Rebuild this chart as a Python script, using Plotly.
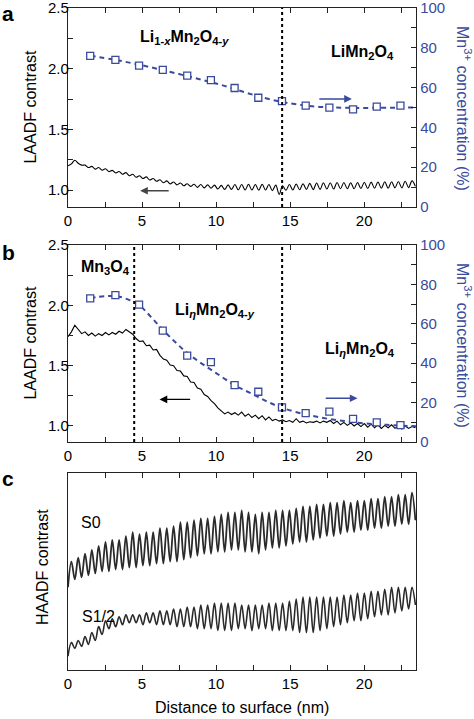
import plotly.graph_objects as go

# ---------------- data ----------------
x_profile = [0.00, 0.23, 0.46, 0.69, 0.92, 1.15, 1.38, 1.61, 1.84, 2.07, 2.30, 2.53, 2.76, 2.99, 3.22,
             3.45, 3.68, 3.91, 4.14, 4.37, 4.60, 4.83, 5.06, 5.29, 5.52, 5.75, 5.98, 6.21, 6.44, 6.67,
             6.90, 7.13, 7.36, 7.59, 7.82, 8.05, 8.28, 8.51, 8.74, 8.97, 9.20, 9.43, 9.66, 9.89, 10.12,
             10.35, 10.58, 10.81, 11.04, 11.27, 11.50, 11.73, 11.96, 12.19, 12.42, 12.65, 12.88, 13.11,
             13.34, 13.57, 13.80, 14.03, 14.26, 14.49, 14.72, 14.95, 15.18, 15.41, 15.64, 15.87, 16.10,
             16.33, 16.56, 16.79, 17.02, 17.25, 17.48, 17.71, 17.94, 18.17, 18.40, 18.63, 18.86, 19.09,
             19.32, 19.55, 19.78, 20.01, 20.24, 20.47, 20.70, 20.93, 21.16, 21.39, 21.62, 21.85, 22.08,
             22.31, 22.54, 22.77, 23.00, 23.23, 23.46]

laadf_a = [1.200, 1.215, 1.245, 1.220, 1.205, 1.205, 1.185, 1.195, 1.172, 1.185, 1.163, 1.175, 1.152,
           1.162, 1.140, 1.152, 1.130, 1.143, 1.118, 1.130, 1.105, 1.118, 1.095, 1.108, 1.082, 1.095,
           1.072, 1.085, 1.060, 1.075, 1.050, 1.066, 1.042, 1.058, 1.035, 1.052, 1.030, 1.048, 1.022,
           1.045, 1.018, 1.042, 1.015, 1.040, 1.008, 1.038, 1.005, 1.042, 1.005, 1.045, 1.002, 1.046,
           1.000, 1.048, 1.000, 1.045, 0.998, 1.048, 1.000, 1.045, 0.995, 1.040, 0.965, 1.035, 0.998,
           1.045, 1.000, 1.050, 1.002, 1.052, 1.005, 1.055, 1.003, 1.058, 1.005, 1.060, 1.008, 1.060,
           1.008, 1.062, 1.010, 1.062, 1.010, 1.060, 1.010, 1.062, 1.012, 1.064, 1.012, 1.065, 1.015,
           1.066, 1.015, 1.068, 1.015, 1.068, 1.018, 1.070, 1.018, 1.072, 1.020, 1.075, 1.030]

laadf_b = [1.740, 1.780, 1.835, 1.800, 1.765, 1.780, 1.750, 1.770, 1.745, 1.765, 1.750, 1.775, 1.755,
           1.775, 1.760, 1.785, 1.770, 1.800, 1.780, 1.760, 1.725, 1.700, 1.705, 1.665, 1.670, 1.630,
           1.635, 1.585, 1.555, 1.545, 1.505, 1.500, 1.460, 1.455, 1.415, 1.410, 1.365, 1.360, 1.315,
           1.305, 1.260, 1.245, 1.210, 1.185, 1.150, 1.125, 1.100, 1.115, 1.095, 1.110, 1.090, 1.115,
           1.080, 1.100, 1.070, 1.090, 1.060, 1.085, 1.050, 1.075, 1.045, 1.055, 1.040, 1.050, 1.035,
           1.045, 1.030, 1.060, 1.030, 1.040, 1.025, 1.035, 1.030, 1.040, 1.025, 1.040, 1.030, 1.045,
           1.020, 1.040, 1.010, 1.030, 1.005, 1.025, 1.000, 1.020, 0.995, 1.020, 0.990, 1.015, 0.985,
           1.010, 0.980, 1.005, 0.985, 1.010, 0.980, 1.000, 0.975, 1.000, 0.980, 0.995, 0.985]

haadf_s0 = [0.42, 0.55, 0.46, 0.57, 0.47, 0.59, 0.48, 0.61, 0.49, 0.63, 0.50, 0.65, 0.50, 0.66, 0.51,
            0.66, 0.51, 0.68, 0.52, 0.70, 0.52, 0.69, 0.53, 0.70, 0.53, 0.70, 0.54, 0.72, 0.54, 0.72,
            0.55, 0.73, 0.55, 0.75, 0.56, 0.75, 0.57, 0.76, 0.58, 0.77, 0.59, 0.77, 0.59, 0.78, 0.60,
            0.79, 0.60, 0.80, 0.61, 0.80, 0.61, 0.81, 0.60, 0.80, 0.60, 0.79, 0.59, 0.80, 0.61, 0.80,
            0.62, 0.81, 0.62, 0.81, 0.63, 0.81, 0.64, 0.82, 0.65, 0.83, 0.65, 0.83, 0.66, 0.84, 0.67,
            0.84, 0.68, 0.85, 0.68, 0.85, 0.69, 0.86, 0.70, 0.85, 0.70, 0.86, 0.71, 0.86, 0.71, 0.87,
            0.72, 0.87, 0.72, 0.88, 0.73, 0.88, 0.73, 0.89, 0.74, 0.89, 0.74, 0.90, 0.76]

haadf_s12 = [0.07, 0.14, 0.11, 0.15, 0.12, 0.17, 0.13, 0.19, 0.15, 0.22, 0.18, 0.25, 0.21, 0.26, 0.22,
             0.27, 0.23, 0.28, 0.24, 0.28, 0.24, 0.28, 0.23, 0.29, 0.24, 0.29, 0.23, 0.30, 0.23, 0.30,
             0.23, 0.31, 0.22, 0.31, 0.22, 0.32, 0.22, 0.32, 0.21, 0.33, 0.21, 0.33, 0.21, 0.34, 0.20,
             0.34, 0.20, 0.34, 0.20, 0.34, 0.21, 0.33, 0.21, 0.33, 0.20, 0.33, 0.21, 0.33, 0.21, 0.34,
             0.20, 0.34, 0.20, 0.34, 0.20, 0.35, 0.20, 0.36, 0.19, 0.37, 0.19, 0.37, 0.19, 0.37, 0.20,
             0.37, 0.21, 0.37, 0.22, 0.37, 0.23, 0.38, 0.24, 0.38, 0.25, 0.39, 0.25, 0.39, 0.26, 0.40,
             0.27, 0.40, 0.28, 0.41, 0.28, 0.42, 0.29, 0.42, 0.30, 0.42, 0.31, 0.42, 0.33]

sq_x = [1.5, 3.2, 4.8, 6.4, 8.05, 9.65, 11.25, 12.85, 14.45, 16.05, 17.65, 19.25, 20.85, 22.45]
mn3_a = [75.9, 73.9, 71.0, 68.9, 66.0, 63.8, 59.8, 54.9, 53.2, 50.9, 49.9, 49.1, 50.4, 50.9]
mn3_b = [72.9, 74.6, 69.7, 56.5, 43.8, 40.5, 28.9, 25.5, 17.6, 14.7, 15.4, 11.7, 10.0, 8.6]

fit_a_x = [1.5, 3.0, 4.5, 6.0, 7.5, 9.0, 10.5, 12.0, 13.0, 14.3, 15.5, 17.0, 18.5, 20.0, 21.5, 23.5]
fit_a_y = [76.0, 74.2, 72.0, 69.5, 66.8, 64.0, 61.0, 57.5, 55.3, 53.0, 51.5, 50.3, 49.9, 49.8, 49.9, 50.0]
fit_b_x = [1.5, 2.5, 3.3, 4.0, 4.8, 5.6, 6.4, 7.2, 8.0, 8.8, 9.6, 10.4, 11.2, 12.0, 12.8, 13.6,
           14.4, 15.5, 17.0, 18.5, 20.0, 21.5, 23.5]
fit_b_y = [73.0, 74.0, 74.0, 72.5, 69.5, 63.5, 57.0, 51.0, 45.5, 41.0, 37.0, 33.0, 29.0, 26.0, 23.0,
           20.0, 17.5, 15.0, 12.5, 10.8, 9.5, 8.7, 8.0]

bounds_a = [14.46]
bounds_b = [4.47, 14.46]

x_ticks = [0, 5, 10, 15, 20]
left_ticks = [1.0, 1.5, 2.0, 2.5]
left_ticktext = ["1.0", "1.5", "2.0", "2.5"]
right_ticks = [0, 20, 40, 60, 80, 100]

# ---------------- style ----------------
FONT = "Liberation Sans, Arial, Helvetica, sans-serif"
BLUE = "#3a4a9c"
AX = "#222222"
DASH = "5px,4px"

fig = go.Figure()

# Panel a
fig.add_trace(go.Scatter(x=x_profile, y=laadf_a, mode="lines", line=dict(color="black", width=1.1, shape="spline"),
                         xaxis="x", yaxis="y", showlegend=False))
fig.add_trace(go.Scatter(x=fit_a_x, y=fit_a_y, mode="lines", line=dict(color=BLUE, width=2, dash=DASH, shape="spline"),
                         xaxis="x", yaxis="y2", showlegend=False))
fig.add_trace(go.Scatter(x=sq_x, y=mn3_a, mode="markers",
                         marker=dict(symbol="square", size=7, color="white", line=dict(color=BLUE, width=1.3)),
                         xaxis="x", yaxis="y2", showlegend=False))
# Panel b
fig.add_trace(go.Scatter(x=x_profile, y=laadf_b, mode="lines", line=dict(color="black", width=1.1),
                         xaxis="x2", yaxis="y3", showlegend=False))
fig.add_trace(go.Scatter(x=fit_b_x, y=fit_b_y, mode="lines", line=dict(color=BLUE, width=2, dash=DASH, shape="spline"),
                         xaxis="x2", yaxis="y4", showlegend=False))
fig.add_trace(go.Scatter(x=sq_x, y=mn3_b, mode="markers",
                         marker=dict(symbol="square", size=7, color="white", line=dict(color=BLUE, width=1.3)),
                         xaxis="x2", yaxis="y4", showlegend=False))
# Panel c
fig.add_trace(go.Scatter(x=x_profile, y=haadf_s0, mode="lines", line=dict(color="#2a2a2a", width=1.8, shape="spline"),
                         xaxis="x3", yaxis="y5", showlegend=False))
fig.add_trace(go.Scatter(x=x_profile, y=haadf_s12, mode="lines", line=dict(color="#2a2a2a", width=1.6, shape="spline"),
                         xaxis="x3", yaxis="y5", showlegend=False))

common_x = dict(range=[0, 23.5], tickvals=x_ticks, ticks="inside", ticklen=5,
                tickcolor=AX, showline=True, linecolor=AX, linewidth=1.3, mirror="ticks",
                minor=dict(dtick=2.5, tick0=0, ticks="inside", ticklen=5, tickcolor=AX),
                showgrid=False, zeroline=False, tickfont=dict(size=15, color="black", family=FONT),
                automargin=False, ticklabeloverflow="allow")
common_left = dict(tickvals=left_ticks, ticktext=left_ticktext, ticks="inside", ticklen=5, tickcolor=AX,
                   minor=dict(dtick=0.25, tick0=0, ticks="inside", ticklen=5, tickcolor=AX),
                   showline=True, linecolor=AX, linewidth=1.3, showgrid=False, zeroline=False,
                   tickfont=dict(size=15, color="black", family=FONT), automargin=False,
                   ticklabeloverflow="allow", ticklabelstandoff=-5)
common_right = dict(range=[0, 100], tickvals=right_ticks, ticks="inside", ticklen=5,
                    minor=dict(dtick=10, tick0=0, ticks="inside", ticklen=5, tickcolor=AX),
                    tickcolor=AX, showline=True, linecolor=AX, linewidth=1.3, showgrid=False, zeroline=False,
                    side="right", tickfont=dict(size=15, color=BLUE, family=FONT), automargin=False,
                    ticklabeloverflow="allow")

dom_a = [0.6994, 1.0]
dom_b = [0.3444, 0.642]
dom_c = [0.0, 0.2976]

fig.update_layout(
    width=474, height=719,
    margin=dict(l=68, r=58, t=8, b=49),
    paper_bgcolor="white", plot_bgcolor="white",
    font=dict(family=FONT, size=15, color="black"),
    xaxis=dict(common_x, anchor="y", domain=[0, 1]),
    yaxis=dict(common_left, anchor="x", domain=dom_a, range=[0.86, 2.5]),
    yaxis2=dict(common_right, anchor="x", overlaying="y"),
    xaxis2=dict(common_x, anchor="y3", domain=[0, 1]),
    yaxis3=dict(common_left, anchor="x2", domain=dom_b, range=[0.867, 2.5]),
    yaxis4=dict(common_right, anchor="x2", overlaying="y3"),
    xaxis3=dict(common_x, anchor="y5", domain=[0, 1]),
    yaxis5=dict(anchor="x3", domain=dom_c, range=[0, 1], showticklabels=False, ticks="",
                showline=True, linecolor=AX, linewidth=1.3, mirror=True, showgrid=False,
                zeroline=False, automargin=False),
)

shapes = []
for xb in bounds_a:
    shapes.append(dict(type="line", xref="x", yref="y domain", x0=xb, x1=xb, y0=0, y1=1,
                       line=dict(color="black", width=2, dash="dot")))
for xb in bounds_b:
    shapes.append(dict(type="line", xref="x2", yref="y3 domain", x0=xb, x1=xb, y0=0, y1=1,
                       line=dict(color="black", width=2, dash="dot")))
fig.update_layout(shapes=shapes)

ann = []
def txt(text, x, y, xref, yref, size=16, color="black", angle=0, xanchor="center", yanchor="middle"):
    ann.append(dict(text=text, x=x, y=y, xref=xref, yref=yref, showarrow=False, textangle=angle,
                    font=dict(size=size, color=color, family=FONT), xanchor=xanchor, yanchor=yanchor))

# panel letters
txt("<b>a</b>", -0.172, 0.991, "paper", "paper", size=21)
txt("<b>b</b>", -0.172, 0.630, "paper", "paper", size=21)
txt("<b>c</b>", -0.172, 0.290, "paper", "paper", size=21)

# axis titles
txt("LAADF contrast", -0.109, 0.8497, "paper", "paper", angle=-90)
txt("LAADF contrast", -0.109, 0.4932, "paper", "paper", angle=-90)
txt("HAADF contrast", -0.072, 0.1556, "paper", "paper", angle=-90)
txt("Mn<sup>3+</sup> concentration (%)", 1.138, 0.849, "paper", "paper", color=BLUE, angle=90)
txt("Mn<sup>3+</sup> concentration (%)", 1.138, 0.491, "paper", "paper", color=BLUE, angle=90)
txt("Distance to surface (nm)", 0.5, -0.0574, "paper", "paper")

# phase labels
txt("<b>Li<sub>1-<i>x</i></sub>Mn<sub>2</sub>O<sub>4-<i>y</i></sub></b>", 7.85, 2.26, "x", "y")
txt("<b>LiMn<sub>2</sub>O<sub>4</sub></b>", 19.9, 2.13, "x", "y")
txt("<b>Mn<sub>3</sub>O<sub>4</sub></b>", 2.5, 2.31, "x2", "y3")
txt("<b>Li<sub><i>η</i></sub>Mn<sub>2</sub>O<sub>4-<i>y</i></sub></b>", 9.95, 1.96, "x2", "y3")
txt("<b>Li<sub><i>η</i></sub>Mn<sub>2</sub>O<sub>4</sub></b>", 19.7, 1.63, "x2", "y3")
txt("S0", 1.56, 0.75, "x3", "y5")
txt("S1/2", 2.03, 0.27, "x3", "y5")

# arrows
def arrow(xh, yh, xt, yt, xref, yref, color):
    ann.append(dict(text="", x=xh, y=yh, ax=xt, ay=yt, xref=xref, yref=yref, axref=xref, ayref=yref,
                    showarrow=True, arrowhead=2, arrowsize=1.1, arrowwidth=1.4, arrowcolor=color))

arrow(4.87, 0.994, 6.9, 0.994, "x", "y", "#444444")
arrow(19.17, 54.3, 16.87, 54.3, "x", "y2", BLUE)
arrow(6.18, 1.22, 8.35, 1.22, "x2", "y3", "black")
arrow(19.55, 22.2, 17.3, 22.2, "x2", "y4", BLUE)

fig.update_layout(annotations=ann)

fig.write_html("out.html")
